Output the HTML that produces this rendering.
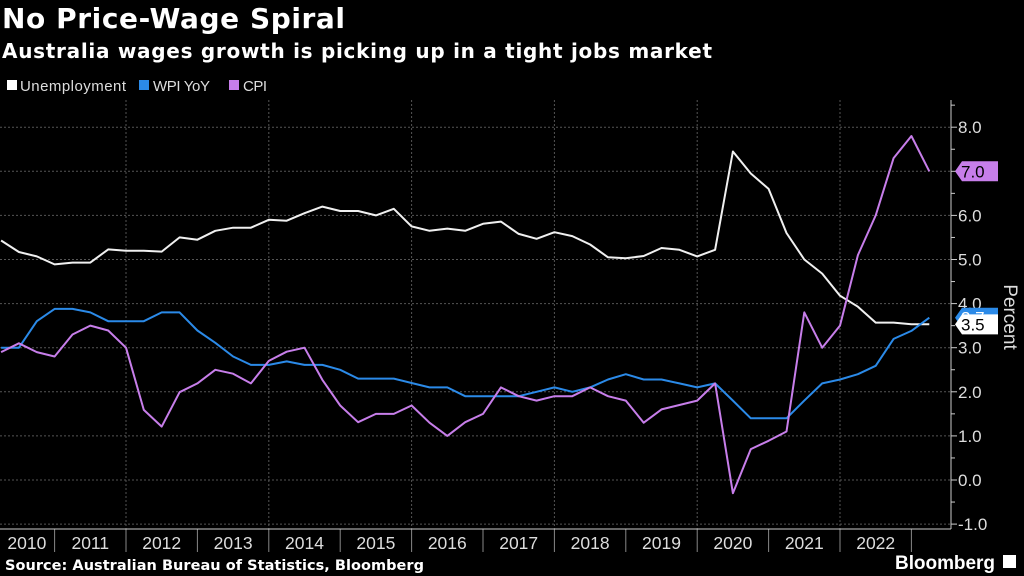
<!DOCTYPE html>
<html><head><meta charset="utf-8"><style>
body{margin:0;background:#000;width:1024px;height:576px;overflow:hidden;font-family:"Liberation Sans","DejaVu Sans",sans-serif}
</style></head><body>
<svg id="chart" width="1024" height="576" xmlns="http://www.w3.org/2000/svg" style="display:block">
<rect width="1024" height="576" fill="#000"/>
<text x="2" y="28" fill="#fff" font-size="28" font-weight="bold" font-family="DejaVu Sans, sans-serif" textLength="343">No Price-Wage Spiral</text>
<text x="2" y="58" fill="#fff" font-size="20" font-weight="bold" font-family="DejaVu Sans, sans-serif" textLength="710">Australia wages growth is picking up in a tight jobs market</text>
<g font-size="15" fill="#ddd">
<g><rect x="7" y="80" width="10" height="10" fill="#fff"/><text x="20" y="91" textLength="106">Unemployment</text></g>
<g><rect x="139" y="80" width="10" height="10" fill="#2b8ae8"/><text x="153" y="91" textLength="57">WPI YoY</text></g>
<g><rect x="229" y="80" width="10" height="10" fill="#c77eea"/><text x="243" y="91" textLength="24">CPI</text></g>
</g>
<g id="grid"></g>
<g id="series"></g>
<g id="axes"></g>
<text transform="translate(1004,317) rotate(90)" text-anchor="middle" fill="#ddd" font-size="19">Percent</text>
<text x="5" y="570" fill="#fff" font-size="14.5" font-weight="bold" font-family="DejaVu Sans, sans-serif" textLength="419">Source: Australian Bureau of Statistics, Bloomberg</text>
<text x="895" y="569" fill="#fff" font-size="19" font-weight="bold" textLength="100">Bloomberg</text>
<rect x="1003" y="555" width="13" height="13" fill="#fff"/>
</svg>
<script>
const years = ["2010","2011","2012","2013","2014","2015","2016","2017","2018","2019","2020","2021","2022"];
const yTicks = [-1,0,1,2,3,4,5,6,7,8];
const unemployment = [5.43,5.17,5.07,4.89,4.93,4.93,5.23,5.2,5.2,5.18,5.5,5.45,5.65,5.72,5.72,5.9,5.88,6.05,6.2,6.1,6.1,6.0,6.15,5.75,5.65,5.7,5.65,5.81,5.86,5.58,5.47,5.62,5.53,5.34,5.05,5.03,5.08,5.26,5.22,5.07,5.22,7.45,6.95,6.6,5.6,5.0,4.68,4.18,3.93,3.57,3.57,3.53,3.53];
const wpi = [3.0,3.0,3.6,3.88,3.88,3.8,3.6,3.6,3.6,3.8,3.8,3.39,3.11,2.8,2.61,2.61,2.69,2.61,2.61,2.5,2.3,2.3,2.3,2.2,2.1,2.1,1.9,1.9,1.9,1.9,2.0,2.1,2.0,2.1,2.28,2.4,2.28,2.28,2.19,2.1,2.19,1.8,1.4,1.4,1.4,1.8,2.19,2.28,2.4,2.59,3.2,3.38,3.68];
const cpi = [2.9,3.1,2.9,2.8,3.3,3.5,3.39,3.0,1.59,1.21,1.99,2.19,2.5,2.41,2.19,2.7,2.91,3.0,2.27,1.69,1.31,1.5,1.5,1.69,1.3,1.0,1.31,1.5,2.1,1.9,1.8,1.9,1.9,2.1,1.9,1.8,1.3,1.6,1.7,1.8,2.19,-0.3,0.7,0.89,1.1,3.8,3.0,3.5,5.1,6.0,7.3,7.8,7.0];

const NS="http://www.w3.org/2000/svg";
const yScale=v=>480-44.1*v;
const yearStart=-16.8, yearW=71.4;
const xScale=i=>yearStart+yearW/4*(i+1);
function mk(tag,attrs,parent){const e=document.createElementNS(NS,tag);for(const k in attrs)e.setAttribute(k,attrs[k]);parent.appendChild(e);return e;}
const grid=document.getElementById('grid'),axes=document.getElementById('axes'),ser=document.getElementById('series');
const AX=951, BOT=529;
yTicks.forEach(t=>{
  const y=yScale(t);
  const l=mk('line',{x1:0,x2:AX,y1:y,y2:y,stroke:'#555','stroke-dasharray':'2,2','stroke-width':1},grid);
  
  
  const tk=mk('line',{x1:AX,x2:AX+6,y1:y,y2:y,stroke:'#ccc'},axes);
  
  
  const mt=mk('line',{x1:AX,x2:AX+4,y1:yScale(t+0.5),y2:yScale(t+0.5),stroke:'#ccc'},axes);
  
  
  const tx=mk('text',{x:AX+7,y:y+6,fill:'#ddd','font-size':17},axes);
  tx.textContent=t.toFixed(1);
  
  
});
years.forEach((yr,k)=>{
  const x0=yearStart+yearW*k;
  if(k%2===0&&k>0){const g=mk('line',{x1:x0,x2:x0,y1:100,y2:BOT,stroke:'#555','stroke-dasharray':'2,2'},grid);
    
    }
  const sx=x0+yearW;
  const s=mk('line',{x1:sx,x2:sx,y1:BOT,y2:552,stroke:'#888'},axes);
  
  
  const tx=mk('text',{x:x0+yearW/2+(k===0?8:0),y:549,fill:'#ddd','font-size':17.5,'text-anchor':'middle'},axes);
  tx.textContent=yr;
  
  
});
const xa=mk('line',{x1:0,x2:AX,y1:BOT,y2:BOT,stroke:'#ccc'},axes);


const ya=mk('line',{x1:AX,x2:AX,y1:100,y2:BOT,stroke:'#ccc'},axes);


function line(data,color,name){
  const p=mk('polyline',{points:data.map((v,i)=>xScale(i).toFixed(1)+','+yScale(v).toFixed(1)).join(' '),fill:'none',stroke:color,'stroke-width':2,'stroke-linejoin':'round'},ser);
  
  
}
line(unemployment,'#f0f0f0','unemployment-line');
line(wpi,'#2b8ae8','wpi-line');
line(cpi,'#c77eea','cpi-line');
function tag(v,bg,fg,name){
  const y=yScale(v);
  const g=mk('g',{},axes);
  
  
  mk('path',{d:`M${AX+4},${y} L${AX+11},${y-10} L${AX+47},${y-10} L${AX+47},${y+10} L${AX+11},${y+10} Z`,fill:bg},g);
  const t=mk('text',{x:AX+10,y:y+6,fill:fg,'font-size':17},g);
  t.textContent=v.toFixed(1);
}
tag(wpi[wpi.length-1],'#2b8ae8','#fff','wpi-last-value');
tag(unemployment[unemployment.length-1],'#fff','#000','unemployment-last-value');
tag(cpi[cpi.length-1],'#c77eea','#000','cpi-last-value');
</script>
</body></html>
